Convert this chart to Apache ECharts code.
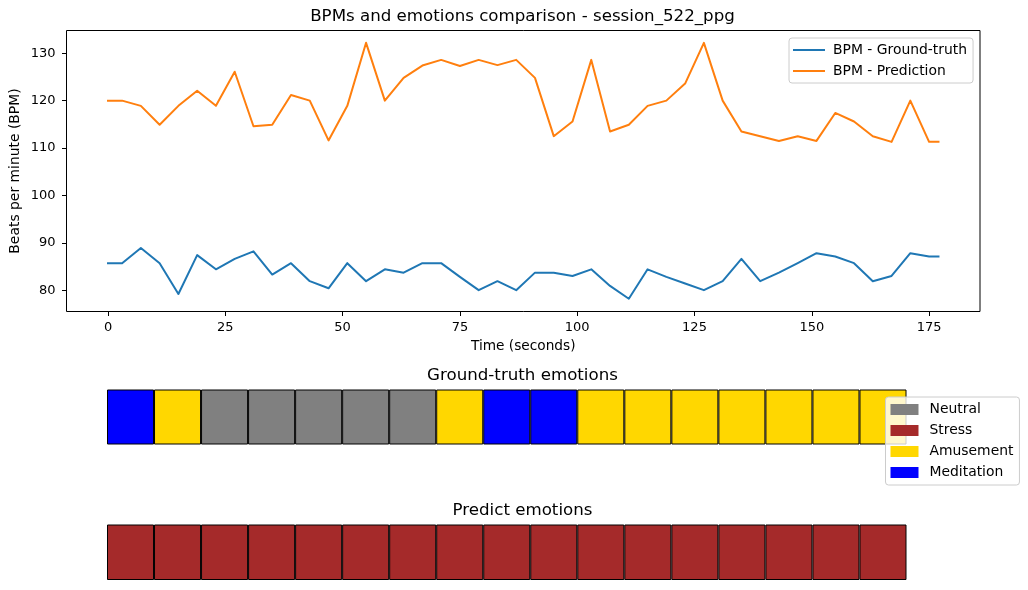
<!DOCTYPE html>
<html>
<head>
<meta charset="utf-8">
<script src="https://cdn.jsdelivr.net/npm/echarts@6/dist/echarts.min.js"></script>
<style>html,body{margin:0;padding:0;background:#fff}#c{width:1028px;height:590px}</style>
</head>
<body>
<div id="c"></div>
<script>
const timeSeconds = [0,3,7,11,15,19,23,27,31,35,39,43,47,51,55,59,63,67,71,75,79,83,87,91,95,99,103,107,111,115,119,123,127,131,135,139,143,147,151,155,159,163,167,171,175,177];
const bpmGroundTruth = [85.7,85.7,88.9,85.7,79.2,87.4,84.4,86.6,88.2,83.3,85.7,81.9,80.4,85.7,81.9,84.4,83.7,85.7,85.7,82.8,80,81.9,80,83.7,83.7,83,84.4,80.9,78.2,84.4,82.8,81.4,80,81.9,86.6,81.9,83.7,85.7,87.8,87.1,85.7,81.9,83,87.8,87.1,87.1];
const bpmPrediction = [120,120,118.9,114.9,118.9,122.1,118.9,126.1,114.6,114.9,121.2,120,111.6,118.9,132.2,120,124.8,127.4,128.6,127.3,128.6,127.5,128.6,124.8,112.5,115.6,128.6,113.5,114.9,118.9,120,123.6,132.2,120,113.5,112.5,111.5,112.5,111.5,117.4,115.6,112.5,111.3,120,111.3,111.3];
const xTicks = [0,25,50,75,100,125,150,175];
const yTicks = [80,90,100,110,120,130];
const emotionNames = ['Neutral','Stress','Amusement','Meditation'];
const emotionColors = ['#808080','#A52A2A','#FFD700','#0000FF'];
const windowStarts = ['0','10','20','30','40','50','60','70','80','90','100','110','120','130','140','150','160'];
const groundTruthEmotions = ['Meditation','Amusement','Neutral','Neutral','Neutral','Neutral','Neutral','Amusement','Meditation','Meditation','Amusement','Amusement','Amusement','Amusement','Amusement','Amusement','Amusement'];
const predictedEmotions = ['Stress','Stress','Stress','Stress','Stress','Stress','Stress','Stress','Stress','Stress','Stress','Stress','Stress','Stress','Stress','Stress','Stress'];

const FONT = '"DejaVu Sans"';
const pairs = a => timeSeconds.map((t, i) => [t, a[i]]);
const lineSeries = (name, data, color) => ({
  name, type: 'line', data: pairs(data), xAxisIndex: 0, yAxisIndex: 0,
  symbol: 'none', lineStyle: { color, width: 2, join: 'round', cap: 'square' }, itemStyle: { color }, z: 3
});
const stripSeries = (labels, gridIdx) => emotionNames.map((name, k) => ({
  name, type: 'bar', stack: 'strip' + gridIdx, xAxisIndex: gridIdx, yAxisIndex: gridIdx,
  barWidth: '100%',
  data: labels.map(l => l === name ? 1 : null),
  itemStyle: { color: emotionColors[k], borderColor: '#000', borderWidth: 1, borderJoin: 'miter' },
  legendHoverLink: false
}));
const titleOf = (text, top) => ({
  text, left: 517.5, top, textAlign: 'center',
  textStyle: { fontFamily: FONT, fontWeight: 'normal', fontSize: 16.67, color: '#000' }
});
const stripX = i => ({ gridIndex: i, type: 'category', data: windowStarts, show: false, boundaryGap: true });
const stripY = i => ({ gridIndex: i, type: 'value', min: 0, max: 1, show: false });

const option = {
  animation: false,
  backgroundColor: '#fff',
  textStyle: { fontFamily: FONT, color: '#000' },
  title: [titleOf('BPMs and emotions comparison - session_522_ppg', 3.5), titleOf('Ground-truth emotions', 362.5), titleOf('Predict emotions', 497.5)],
  legend: [
    { data: ['BPM - Ground-truth', 'BPM - Prediction'], left: 789, top: 38, orient: 'vertical', itemWidth: 30, itemHeight: 14, itemGap: 7, padding: [5, 6, 5, 4],
      backgroundColor: 'rgba(255,255,255,0.8)', borderColor: '#ccc', borderWidth: 1, borderRadius: 3,
      itemStyle: { opacity: 0 },
      textStyle: { fontFamily: FONT, fontSize: 13.9, color: '#000', padding: [0, 0, 0, 4] }, selectedMode: false, z: 10 },
    { data: emotionNames.map(name => ({ name, icon: 'rect' })), left: 885.5, top: 397, orient: 'vertical', itemWidth: 28, itemHeight: 11, itemGap: 7, padding: [5.5, 6, 5.5, 5],
      backgroundColor: 'rgba(255,255,255,0.8)', borderColor: '#ccc', borderWidth: 1, borderRadius: 3,
      itemStyle: { borderWidth: 0 },
      textStyle: { fontFamily: FONT, fontSize: 13.9, color: '#000', padding: [0, 0, 0, 6] }, selectedMode: false, z: 10 }
  ],
  grid: [
    { left: 66.5, top: 30.5, width: 913.5, height: 281, show: true, borderColor: '#000', borderWidth: 1, backgroundColor: 'transparent', outerBoundsMode: 'none' },
    { left: 107, top: 389.5, width: 799.5, height: 55, outerBoundsMode: 'none' },
    { left: 107, top: 524.5, width: 799.5, height: 55.5, outerBoundsMode: 'none' }
  ],
  xAxis: [
    { gridIndex: 0, type: 'value', min: -8.85, max: 185.85, name: 'Time (seconds)', nameLocation: 'middle', nameGap: 34.5, nameMoveOverlap: false,
      nameTextStyle: { fontFamily: FONT, fontSize: 13.7, color: '#000', verticalAlign: 'middle' },
      splitLine: { show: false }, axisLine: { show: false, onZero: false },
      axisTick: { show: true, length: 4.5, lineStyle: { color: '#000', width: 1 }, customValues: xTicks },
      axisLabel: { color: '#000', fontFamily: FONT, fontSize: 13, margin: 9.5, customValues: xTicks } },
    stripX(1), stripX(2)
  ],
  yAxis: [
    { gridIndex: 0, type: 'value', min: 75.5, max: 134.8, name: 'Beats per minute (BPM)', nameLocation: 'middle', nameGap: 51, nameMoveOverlap: false,
      nameTextStyle: { fontFamily: FONT, fontSize: 13.9, color: '#000', verticalAlign: 'middle' },
      splitLine: { show: false }, axisLine: { show: false, onZero: false },
      axisTick: { show: true, length: 4.5, lineStyle: { color: '#000', width: 1 }, customValues: yTicks },
      axisLabel: { color: '#000', fontFamily: FONT, fontSize: 13, margin: 11, customValues: yTicks } },
    stripY(1), stripY(2)
  ],
  series: [
    lineSeries('BPM - Ground-truth', bpmGroundTruth, '#1f77b4'),
    lineSeries('BPM - Prediction', bpmPrediction, '#ff7f0e'),
    ...stripSeries(groundTruthEmotions, 1),
    ...stripSeries(predictedEmotions, 2)
  ]
};
echarts.init(document.getElementById('c'), null, { renderer: 'canvas' }).setOption(option);
</script>
</body>
</html>
